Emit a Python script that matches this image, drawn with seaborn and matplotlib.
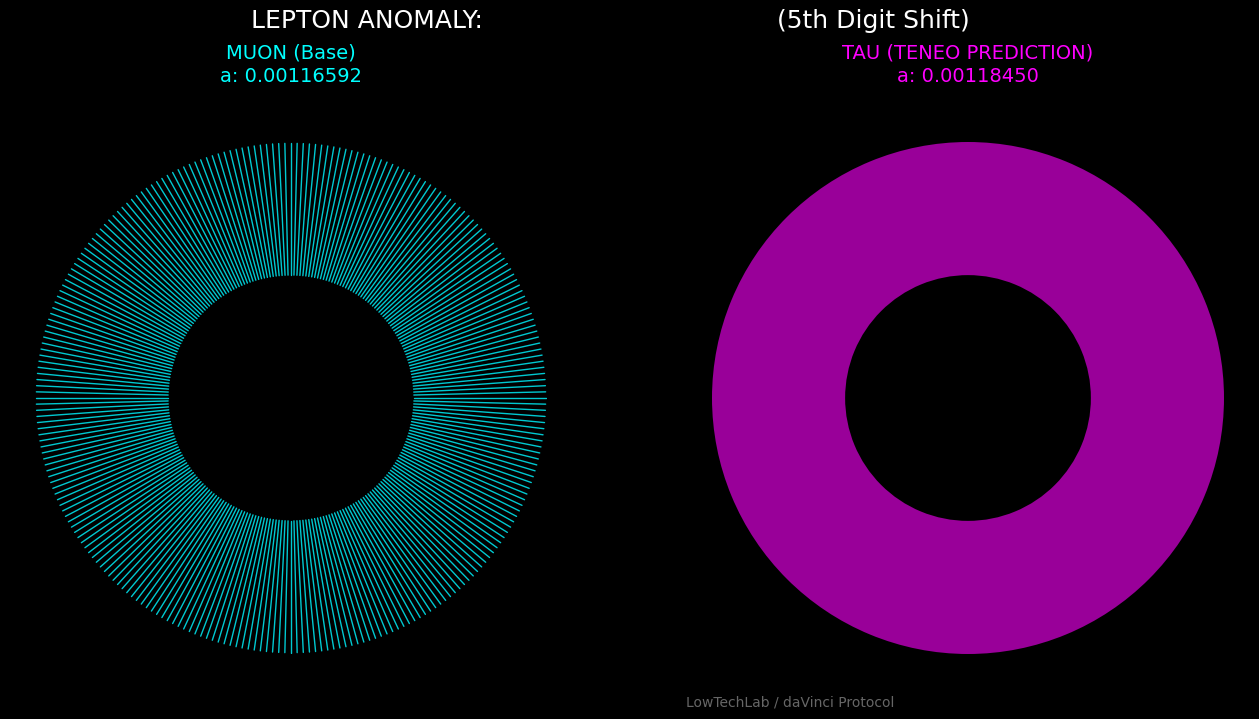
import numpy as np
import matplotlib
matplotlib.use("Agg")
import matplotlib.pyplot as plt
import seaborn as sns

sns.set_theme(style="dark")
plt.rcParams['font.family'] = ['DejaVu Sans']

# values
labels = ["MUON (Base)", "TAU (TENEO PREDICTION)"]
anomaly = [0.00116592, 0.00118450]
colors = ["#00ffff", "#ff00ff"]
n_spokes = 260
inner_radius = 0.48

fig = plt.figure(figsize=(12.59, 7.19), dpi=100, facecolor="black")
W, H = 1259, 719
R = 256

def make_ax(cx, cy):
    ax = fig.add_axes([(cx - R) / W, 1 - (cy + R) / H, 2 * R / W, 2 * R / H])
    ax.set_facecolor("black")
    ax.set_xlim(-1, 1)
    ax.set_ylim(-1, 1)
    ax.set_aspect("equal")
    ax.axis("off")
    return ax

# muon: spokes
ax1 = make_ax(291, 398)
theta = np.linspace(0, 2 * np.pi, n_spokes, endpoint=False)
for t in theta:
    ax1.plot([inner_radius * np.cos(t), 0.995 * np.cos(t)],
             [inner_radius * np.sin(t), 0.995 * np.sin(t)],
             color="#00c8d0", lw=1.0)

# tau: solid ring
ax2 = make_ax(968, 398)
ax2.pie([1], colors=["#990099"], radius=1.0,
        wedgeprops=dict(width=1 - inner_radius, edgecolor="none"))
ax2.set_xlim(-1, 1)
ax2.set_ylim(-1, 1)

fig.text(291 / W, 1 - 53 / H, labels[0], color=colors[0], ha="center", va="center", fontsize=14)
fig.text(291 / W, 1 - 76 / H, f"a: {anomaly[0]:.8f}", color=colors[0], ha="center", va="center", fontsize=14)
fig.text(968 / W, 1 - 53 / H, labels[1], color=colors[1], ha="center", va="center", fontsize=14)
fig.text(968 / W, 1 - 76 / H, f"a: {anomaly[1]:.8f}", color=colors[1], ha="center", va="center", fontsize=14)

fig.text(251 / W, 1 - 21 / H, "LEPTON ANOMALY:", color="white", ha="left", va="center", fontsize=18)
fig.text(777 / W, 1 - 21 / H, "(5th Digit Shift)", color="white", ha="left", va="center", fontsize=18)

fig.text(790 / W, 1 - 703 / H, "LowTechLab / daVinci Protocol", color="#666666",
         ha="center", va="center", fontsize=10)

fig.savefig("out.png", dpi=100, facecolor="black")
